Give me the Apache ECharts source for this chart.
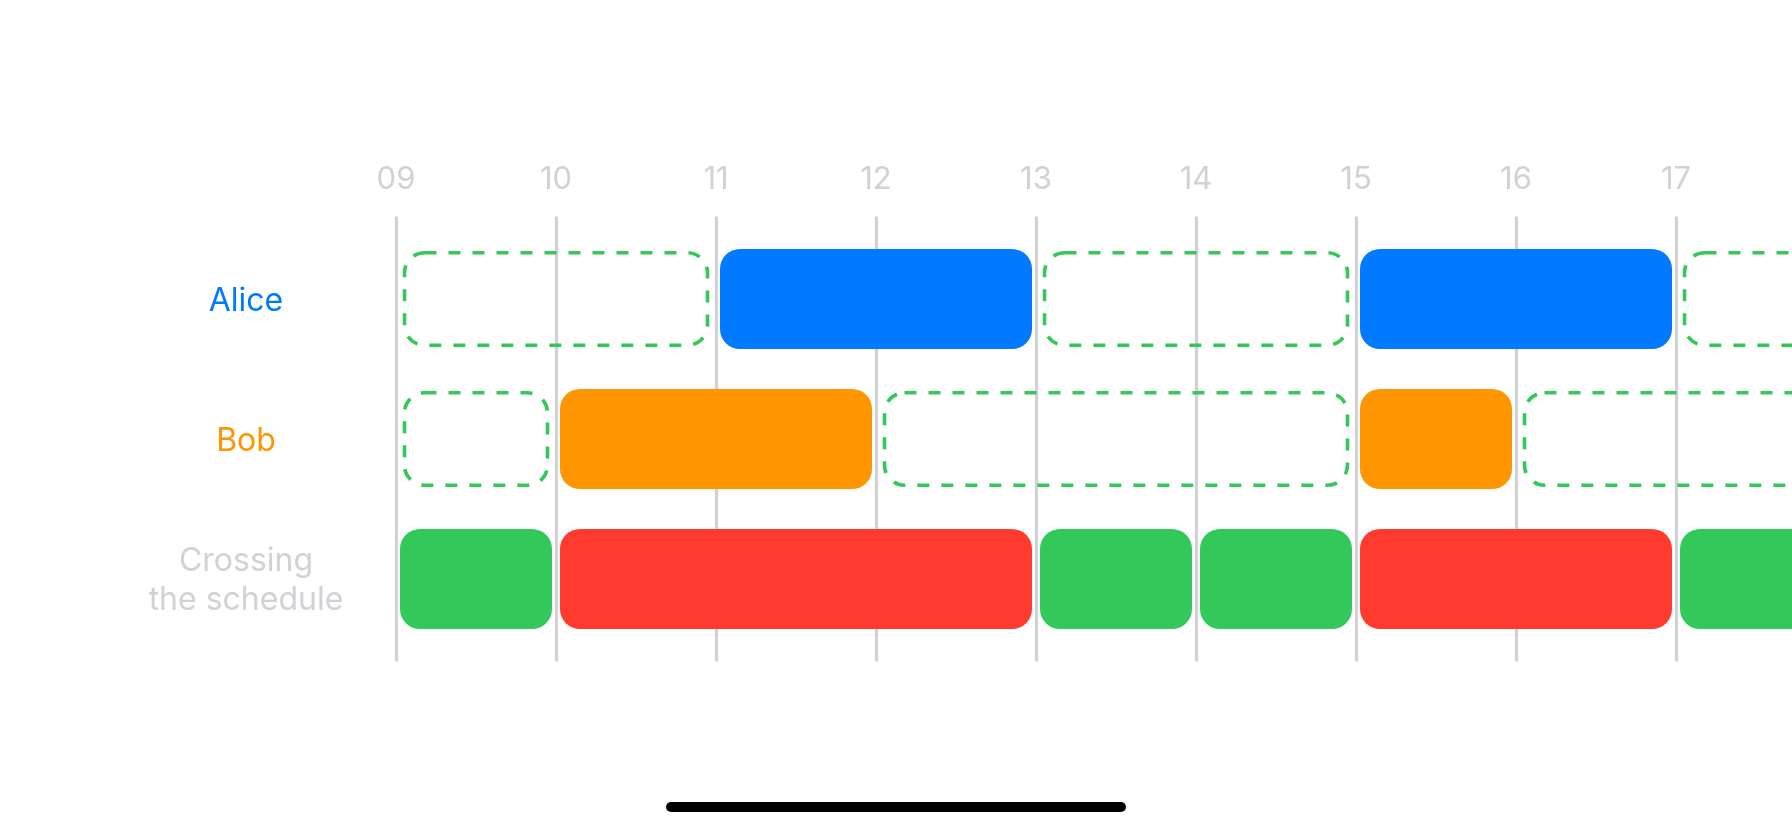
<!DOCTYPE html>
<html>
<head>
<meta charset="utf-8">
<script src="https://cdn.jsdelivr.net/npm/echarts@6/dist/echarts.min.js"></script>
<style>
  html, body { margin: 0; padding: 0; background: #ffffff; }
  #chart { width: 1792px; height: 828px; }
</style>
</head>
<body>
<div id="chart"></div>
<script>
// ---- data ----
const people = ['Alice', 'Bob', 'Crossing\nthe schedule'];
const tickLabels = ['09', '10', '11', '12', '13', '14', '15', '16', '17', '18', '19'];
// [start hour, end hour]
const aliceBusy = [[11, 13], [15, 17]];
const aliceFree = [[9, 11], [13, 15], [17, 19]];
const bobBusy = [[10, 12], [15, 16]];
const bobFree = [[9, 10], [12, 15], [16, 19]];
const crossFree = [[9, 10], [13, 14], [14, 15], [17, 18]];
const crossBusy = [[10, 13], [15, 17]];

// ---- styles ----
const C_BLUE = '#007aff', C_ORANGE = '#ff9500', C_GREEN = '#34c759', C_RED = '#ff3b30', C_GRAY = '#d1d1d6';
const FONT = 'Inter, "Noto Sans", sans-serif';

function rows(list, row, kind) { return list.map(function (s) { return [s[0], s[1], row, kind]; }); }
const items = [].concat(
  rows(aliceFree, 0, 'free'), rows(aliceBusy, 0, 'alice'),
  rows(bobFree, 1, 'free'), rows(bobBusy, 1, 'bob'),
  rows(crossFree, 2, 'cfree'), rows(crossBusy, 2, 'cbusy')
);
const fills = { alice: C_BLUE, bob: C_ORANGE, cfree: C_GREEN, cbusy: C_RED };

const chart = echarts.init(document.getElementById('chart'), null, { renderer: 'canvas' });
chart.setOption({
  backgroundColor: '#ffffff',
  animation: false,
  grid: { left: 396, top: 218, width: 1600, height: 442, outerBoundsMode: 'none', containLabel: false },
  xAxis: {
    type: 'value', position: 'top', min: 9, max: 19, interval: 1,
    axisLine: { show: false }, axisTick: { show: false },
    axisLabel: {
      margin: 23, fontSize: 31, color: C_GRAY, fontFamily: FONT,
      formatter: function (v) { return tickLabels[Math.round(v - 9)]; }
    },
    splitLine: { show: true, lineStyle: { color: C_GRAY, width: 3.3, cap: 'round' } }
  },
  yAxis: {
    type: 'value', inverse: true, min: -0.5786, max: 2.5786,
    axisLine: { show: false }, axisTick: { show: false }, splitLine: { show: false },
    axisLabel: {
      customValues: [0, 1, 2], align: 'center', margin: 150,
      fontFamily: FONT, fontSize: 32, padding: [4, 0, 0, 0],
      formatter: function (v) {
        const name = people[Math.round(v)];
        const key = ['a', 'b', 'c'][Math.round(v)];
        return name.split('\n').map(function (s) { return '{' + key + '|' + s + '}'; }).join('\n');
      },
      rich: {
        a: { color: C_BLUE, fontSize: 32, fontFamily: FONT, lineHeight: 39, align: 'center' },
        b: { color: C_ORANGE, fontSize: 32, fontFamily: FONT, lineHeight: 39, align: 'center' },
        c: { color: C_GRAY, fontSize: 32, fontFamily: FONT, lineHeight: 39, align: 'center' }
      }
    }
  },
  series: [{
    type: 'custom',
    clip: false,
    encode: { x: [0, 1], y: 2 },
    data: items,
    renderItem: function (params, api) {
      const start = api.value(0), end = api.value(1), row = api.value(2);
      const kind = items[params.dataIndex][3];
      const p0 = api.coord([start, row]);
      const p1 = api.coord([end, row]);
      const band = api.size([0, 1])[1];
      if (kind === 'free') {
        const h = band * 0.66;
        return {
          type: 'rect',
          shape: { x: p0[0] + 8.5, y: p0[1] - h / 2, width: p1[0] - p0[0] - 17, height: h, r: 20 },
          style: { fill: 'none', stroke: C_GREEN, lineWidth: 3.6, lineDash: [12, 12] }
        };
      }
      const h = band * 100 / 140;
      return {
        type: 'rect',
        shape: { x: p0[0] + 4, y: p0[1] - h / 2, width: p1[0] - p0[0] - 8, height: h, r: 20 },
        style: { fill: fills[kind] }
      };
    }
  }],
  graphic: [{
    type: 'rect', left: 'center', top: 802,
    shape: { width: 460, height: 10, r: 5 },
    style: { fill: '#000000' }
  }]
});
</script>
</body>
</html>
